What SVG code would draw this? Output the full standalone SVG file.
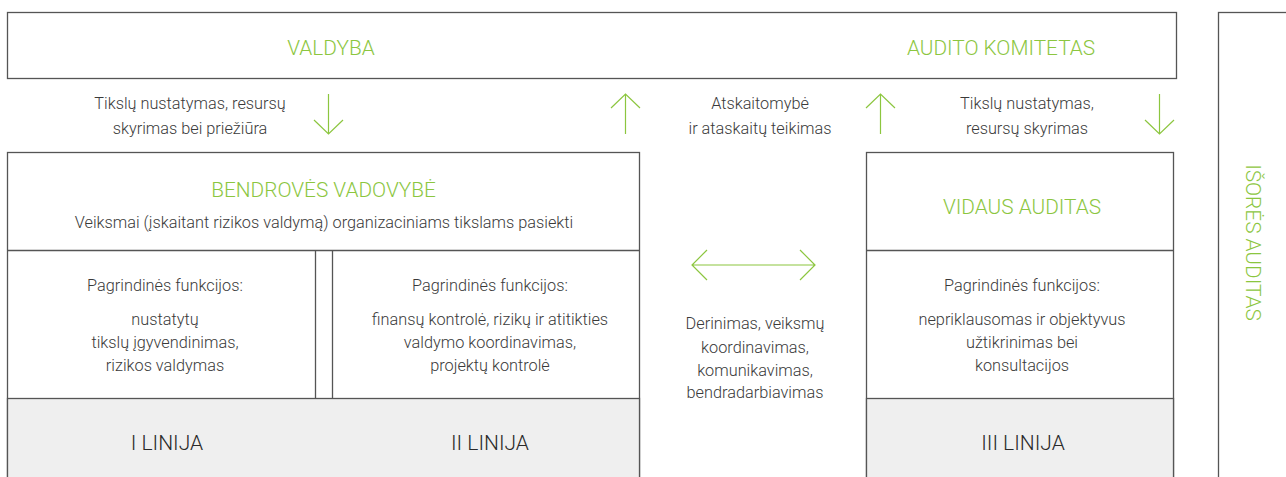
<svg xmlns="http://www.w3.org/2000/svg" width="1286" height="477" viewBox="0 0 1286 477">
<style>
.box{fill:#fff;stroke:#555;stroke-width:1.3}
.gray{fill:#efefef;stroke:#555;stroke-width:1.3}
.ln{stroke:#555;stroke-width:1.3;fill:none}
.arr{stroke:#8cc63f;stroke-width:1.2;fill:none}
.t{font-family:Roboto,"Liberation Sans",sans-serif;font-weight:300;font-size:16.3px;fill:#3a3a3a;text-anchor:middle}
.g{font-family:Roboto,"Liberation Sans",sans-serif;font-weight:300;font-size:20.8px;fill:#8cc63f;text-anchor:middle}
.l{font-family:Roboto,"Liberation Sans",sans-serif;font-weight:300;font-size:21px;fill:#2a2a2a;text-anchor:middle}
</style>
<g id="valdyba">
<rect class="box" x="7.5" y="12.5" width="1169" height="66"/>
<text class="g" x="331" y="55">VALDYBA</text>
<text class="g" x="1001" y="55">AUDITO KOMITETAS</text>
</g>
<g id="isores-auditas">
<rect class="box" x="1218.5" y="12.5" width="80" height="480"/>
<text class="g" font-size="21.5" transform="translate(1246,242.5) rotate(90)">IŠORĖS AUDITAS</text>
</g>
<g id="bendroves-vadovybe">
<rect class="box" x="7.5" y="152.5" width="632" height="340"/>
<line class="ln" x1="7.5" y1="250.5" x2="639.5" y2="250.5"/>
<line class="ln" x1="315.5" y1="250.5" x2="315.5" y2="398.5"/>
<line class="ln" x1="332.5" y1="250.5" x2="332.5" y2="398.5"/>
<rect class="gray" x="7.5" y="398.5" width="632" height="94"/>
<text class="g" x="323.5" y="197">BENDROVĖS VADOVYBĖ</text>
<text class="t" x="324" y="228">Veiksmai (įskaitant rizikos valdymą) organizaciniams tikslams pasiekti</text>
<text class="t" x="165" y="291">Pagrindinės funkcijos:</text>
<text class="t" x="165" y="325">nustatytų</text>
<text class="t" x="165" y="348">tikslų įgyvendinimas,</text>
<text class="t" x="165" y="371">rizikos valdymas</text>
<text class="t" x="490" y="291">Pagrindinės funkcijos:</text>
<text class="t" x="490" y="325">finansų kontrolė, rizikų ir atitikties</text>
<text class="t" x="490" y="348">valdymo koordinavimas,</text>
<text class="t" x="490" y="371">projektų kontrolė</text>
<text class="l" x="167" y="450">I LINIJA</text>
<text class="l" x="490" y="450">II LINIJA</text>
</g>
<g id="vidaus-auditas">
<rect class="box" x="866.5" y="152.5" width="307" height="340"/>
<line class="ln" x1="866.5" y1="250.5" x2="1173.5" y2="250.5"/>
<rect class="gray" x="866.5" y="398.5" width="307" height="94"/>
<text class="g" x="1022" y="214">VIDAUS AUDITAS</text>
<text class="t" x="1022" y="291">Pagrindinės funkcijos:</text>
<text class="t" x="1022" y="325">nepriklausomas ir objektyvus</text>
<text class="t" x="1022" y="348">užtikrinimas bei</text>
<text class="t" x="1022" y="371">konsultacijos</text>
<text class="l" x="1023" y="450">III LINIJA</text>
</g>
<g id="connectors">
<path class="arr" d="M328.5 94V134M314 120L328.5 134L343 120"/>
<path class="arr" d="M625.5 94V134M611 108L625.5 94L640 108"/>
<path class="arr" d="M880.5 94V134M866 108L880.5 94L895 108"/>
<path class="arr" d="M1159.5 94V134M1145 120L1159.5 134L1174 120"/>
<path class="arr" d="M692 265H815M707 250L692 265L707 280M800 250L815 265L800 280"/>
</g>
<g id="labels">
<text class="t" x="190" y="109">Tikslų nustatymas, resursų</text>
<text class="t" x="190" y="134">skyrimas bei priežiūra</text>
<text class="t" x="760" y="109">Atskaitomybė</text>
<text class="t" x="760" y="134">ir ataskaitų teikimas</text>
<text class="t" x="1027" y="109">Tikslų nustatymas,</text>
<text class="t" x="1027" y="134">resursų skyrimas</text>
<text class="t" x="755" y="329">Derinimas, veiksmų</text>
<text class="t" x="755" y="353">koordinavimas,</text>
<text class="t" x="755" y="376">komunikavimas,</text>
<text class="t" x="755" y="398">bendradarbiavimas</text>
</g>
</svg>
